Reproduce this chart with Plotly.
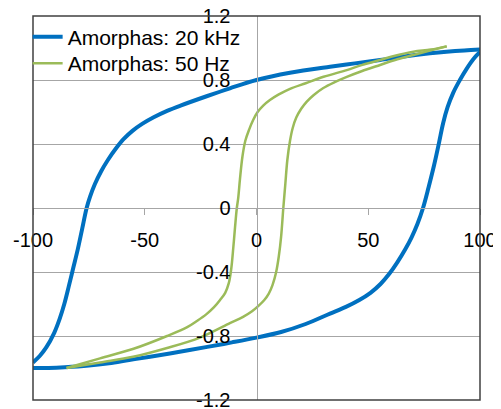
import plotly.graph_objects as go

# Amorphas: 20 kHz (blue loop) - descending and ascending branches
blue_down_x = [100, 93, 85, 77.6, 66, 55.3, 44, 32.9, 15, 0, -11.9, -22, -34, -40, -46, -51, -55.5, -59.5, -63, -66.5, -69.5, -72.3, -74.5, -76,
               -78, -80, -82, -84, -86, -88, -90.5, -94, -97, -100]
blue_down_y = [0.99, 0.985, 0.977, 0.967, 0.947, 0.925, 0.904, 0.883, 0.845, 0.80, 0.748, 0.70, 0.64, 0.607, 0.567, 0.527, 0.482, 0.43, 0.37, 0.30, 0.23, 0.15, 0.07, 0.0,
               -0.13, -0.26, -0.375, -0.49, -0.60, -0.69, -0.78, -0.87, -0.925, -0.965]
blue_up_x = [-100, -93, -85.8, -75, -66, -57, -47.6, -35, -22, -11, 0, 11, 22, 32.9, 40, 46, 51, 55.5, 59.5, 63, 66.5, 69.5, 72, 74.5,
             77, 79.5, 81.7, 83.5, 85.5, 88, 91, 94, 97, 100]
blue_up_y = [-1.0, -1.0, -0.996, -0.985, -0.97, -0.95, -0.93, -0.90, -0.868, -0.84, -0.81, -0.775, -0.725, -0.66, -0.618, -0.575, -0.53, -0.475, -0.41, -0.34, -0.26, -0.18, -0.10, 0.0,
             0.13, 0.27, 0.41, 0.53, 0.63, 0.72, 0.80, 0.87, 0.93, 0.975]

# Amorphas: 50 Hz (green loop)
green_down_x = [85.1, 78, 70.2, 62, 55.3, 47, 40.4, 30, 22, 15, 10, 6, 3, 0.5, -1.5, -3.3, -5, -6.3, -7.4, -8.2, -8.8, -9.6, -10.4, -11.3, -12.4, -14, -16.3,
                -19, -22.5, -26.5, -31, -40, -55, -70, -85]
green_down_y = [1.01, 0.99, 0.977, 0.952, 0.925, 0.893, 0.862, 0.82, 0.78, 0.745, 0.71, 0.675, 0.64, 0.60, 0.55, 0.49, 0.42, 0.32, 0.18, 0.06, 0.0, -0.12, -0.25, -0.38, -0.47, -0.53, -0.575,
                -0.62, -0.665, -0.705, -0.745, -0.80, -0.88, -0.94, -1.0]
green_up_x = [-85, -70, -55.2, -40, -25.3, -11.9, -6, -2, 1, 3.5, 5.5, 7.2, 8.8, 10, 11, 12, 12.9, 13.8, 15, 16.2, 17.8, 20, 22.5, 25.5, 29.9, 35, 40.4,
              47, 55.3, 62, 70.2, 78, 85.1]
green_up_y = [-1.0, -0.965, -0.93, -0.875, -0.81, -0.72, -0.68, -0.645, -0.61, -0.575, -0.535, -0.48, -0.40, -0.30, -0.18, 0.0, 0.15, 0.30, 0.42, 0.50, 0.565, 0.62, 0.665, 0.705, 0.75, 0.787, 0.82,
              0.855, 0.894, 0.925, 0.956, 0.985, 1.01]

x_ticks = [-100, -50, 0, 50, 100]
x_labels = ["-100", "-50", "0", "50", "100"]
y_ticks = [-1.2, -0.8, -0.4, 0, 0.4, 0.8, 1.2]
y_labels = ["-1.2", "-0.8", "-0.4", "0", "0.4", "0.8", "1.2"]

BLUE = "#0070C0"
GREEN = "#9BBB59"
LINE = dict(shape="spline", smoothing=1.0)

fig = go.Figure()
fig.add_trace(go.Scatter(x=blue_down_x, y=blue_down_y, mode="lines", name="Amorphas: 20 kHz",
                         legend="legend", line=dict(color=BLUE, width=4, **LINE)))
fig.add_trace(go.Scatter(x=blue_up_x, y=blue_up_y, mode="lines", name="Amorphas: 20 kHz",
                         showlegend=False, line=dict(color=BLUE, width=4, **LINE)))
fig.add_trace(go.Scatter(x=green_down_x, y=green_down_y, mode="lines", name="Amorphas: 50 Hz",
                         legend="legend2", line=dict(color=GREEN, width=2.5, **LINE)))
fig.add_trace(go.Scatter(x=green_up_x, y=green_up_y, mode="lines", name="Amorphas: 50 Hz",
                         showlegend=False, line=dict(color=GREEN, width=2.5, **LINE)))

leg_common = dict(xanchor="left", yanchor="middle", bgcolor="rgba(0,0,0,0)",
                  font=dict(size=21), itemwidth=30)

# page body has an 8px default margin, so the figure is shrunk by 8px and margins reduced
fig.update_layout(
    width=493, height=401,
    margin=dict(l=25, r=21, t=8, b=9, autoexpand=False),
    paper_bgcolor="white", plot_bgcolor="white",
    font=dict(family="Liberation Sans, Arial, sans-serif", color="black", size=20),
    showlegend=True,
    legend=dict(x=-0.012, y=0.945, **leg_common),
    legend2=dict(x=-0.012, y=0.876, **leg_common),
    xaxis=dict(range=[-100, 100], anchor="free", position=0.5, showgrid=False, zeroline=False,
               showline=True, linecolor="#A6A6A6", linewidth=1, automargin=False,
               ticks="outside", ticklen=6, tickcolor="#A6A6A6",
               tickvals=x_ticks, ticktext=x_labels, ticklabelstandoff=8,
               ticklabeloverflow="allow", tickfont=dict(size=20)),
    yaxis=dict(range=[-1.2, 1.2], anchor="free", position=0.5, showgrid=True, gridcolor="#A6A6A6",
               gridwidth=1, zeroline=False, showline=True, linecolor="#A6A6A6", linewidth=1,
               automargin=False, ticks="", tickvals=y_ticks, ticktext=y_labels,
               ticklabelstandoff=22, ticklabeloverflow="allow", tickfont=dict(size=20)),
    shapes=[dict(type="rect", xref="paper", yref="paper", x0=0, x1=1, y0=0, y1=1,
                 line=dict(color="#404040", width=1.5), layer="above")],
)

fig.write_html("out.html")
